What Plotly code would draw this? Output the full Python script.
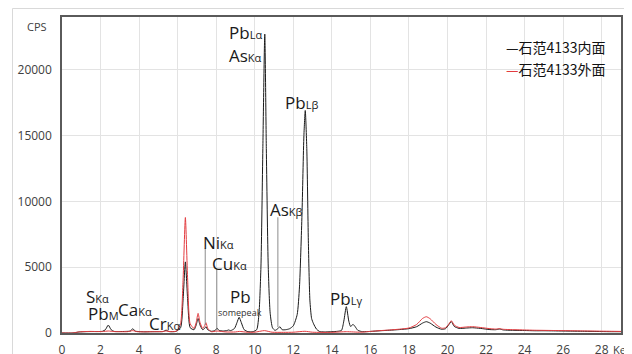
import plotly.graph_objects as go

# ---- data (energy in keV, intensity in CPS) ----
inner_keV = [0.0, 0.5, 0.7, 0.9, 1.2, 1.5, 1.8, 2.1, 2.25, 2.4, 2.55, 2.7, 3.0, 3.3, 3.55, 3.67, 3.8, 4.0,
             4.3, 4.6, 5.0, 5.25, 5.4, 5.55, 5.9, 6.15, 6.28, 6.4, 6.52, 6.65, 6.85, 6.96, 7.06, 7.16, 7.3,
             7.4, 7.47, 7.56, 7.75, 7.95, 8.04, 8.14, 8.35, 8.55, 8.64, 8.75, 8.95, 9.08, 9.19, 9.3, 9.45,
             9.65, 9.9, 10.1, 10.22, 10.32, 10.42, 10.52, 10.6, 10.7, 10.8, 10.92, 11.05, 11.2, 11.3, 11.42,
             11.6, 11.8, 12.0, 12.2, 12.32, 12.45, 12.55, 12.62, 12.7, 12.78, 12.86, 12.95, 13.05, 13.2,
             13.35, 13.6, 14.0, 14.3, 14.5, 14.62, 14.75, 14.88, 14.97, 15.1, 15.2, 15.35, 15.6, 16.0, 16.5,
             17.0, 17.5, 18.0, 18.4, 18.7, 18.9, 19.1, 19.4, 19.7, 19.9, 20.05, 20.2, 20.35, 20.6, 21.0,
             21.3, 21.7, 22.2, 22.5, 22.7, 22.9, 23.5, 24.0, 24.5, 25.0, 25.5, 26.0, 26.5, 27.0, 27.5, 28.0,
             28.5, 29.0]
inner_cps = [0, 0, 30, 80, 100, 110, 110, 130, 250, 600, 250, 120, 110, 120, 150, 330, 140, 110,
             90, 100, 100, 110, 220, 110, 120, 400, 2500, 5400, 2500, 400, 250, 600, 1100, 600, 250,
             350, 480, 250, 130, 200, 380, 200, 150, 180, 230, 180, 350, 800, 1190, 800, 250,
             100, 100, 250, 1500, 5000, 14000, 22700, 14000, 5000, 1500, 400, 200, 330, 480, 250,
             250, 320, 550, 1400, 3500, 9000, 15000, 16900, 14000, 7000, 2500, 1100, 700, 300,
             120, 80, 100, 130, 200, 900, 2000, 900, 500, 650, 500, 200, 100, 120, 170,
             210, 260, 330, 480, 750, 860, 750, 450, 280, 330, 600, 860, 500, 350, 380,
             400, 350, 260, 250, 300, 230, 200, 190, 170, 170, 160, 150, 140, 130, 120, 110,
             100, 100]

outer_keV = [0.0, 0.5, 0.7, 0.9, 1.2, 1.5, 1.8, 2.1, 2.4, 2.7, 3.0, 3.4, 3.67, 3.9, 4.3, 4.8, 5.2, 5.4,
             5.6, 5.95, 6.15, 6.28, 6.4, 6.52, 6.65, 6.85, 6.96, 7.06, 7.16, 7.3, 7.4, 7.47, 7.56, 7.75,
             8.04, 8.5, 9.0, 9.2, 9.6, 10.0, 10.5, 10.9, 11.5, 12.0, 12.6, 13.0, 14.0, 14.75, 15.5, 16.0,
             16.5, 17.0, 17.5, 18.0, 18.4, 18.7, 18.9, 19.1, 19.4, 19.7, 19.9, 20.05, 20.2, 20.35, 20.6,
             21.0, 21.3, 21.7, 22.2, 22.5, 22.7, 22.9, 23.5, 24.0, 24.5, 25.0, 25.5, 26.0, 26.5, 27.0,
             27.5, 28.0, 28.5, 29.0]
outer_cps = [0, 0, 40, 90, 110, 120, 110, 110, 150, 110, 100, 100, 180, 100, 90, 100, 110, 150,
             110, 150, 700, 4000, 8770, 4000, 700, 350, 800, 1490, 800, 350, 550, 780, 350, 100,
             150, 80, 80, 120, 60, 60, 180, 60, 50, 60, 130, 60, 50, 100, 60, 120,
             180, 230, 290, 380, 650, 1100, 1235, 1080, 650, 360, 400, 650, 930, 600, 420,
             460, 480, 420, 330, 300, 330, 280, 250, 230, 210, 200, 190, 180, 170, 160,
             150, 140, 130, 120]

series_names = ["石范4133内面", "石范4133外面"]
x_ticks = list(range(0, 30, 2))
y_ticks = [0, 5000, 10000, 15000, 20000]

# peak labels: (main, small, keV, cps)
labels = [
    ("Pb", "Lα", 9.5, 22800),
    ("As", "Kα", 9.5, 21100),
    ("Pb", "Lβ", 12.43, 17500),
    ("As", "Kβ", 11.65, 9400),
    ("Ni", "Kα", 8.1, 6900),
    ("Cu", "Kα", 8.67, 5250),
    ("Pb", "", 9.25, 2800),
    ("S", "Kα", 1.83, 2750),
    ("Pb", "M", 2.13, 1450),
    ("Ca", "Kα", 3.8, 1800),
    ("Cr", "Kα", 5.3, 750),
    ("Pb", "Lγ", 14.75, 2650),
]
leaders = [(7.43, 6440, 606), (8.03, 4920, 230), (11.2, 8790, 450)]

FONT = "Open Sans"
OFF = 8  # page body margin of the html

fig = go.Figure()
fig.add_trace(go.Scatter(x=inner_keV, y=inner_cps, mode="lines", name=series_names[0],
                         line=dict(color="#1a1a1a", width=1, shape="spline", smoothing=0.6)))
fig.add_trace(go.Scatter(x=outer_keV, y=outer_cps, mode="lines", name=series_names[1],
                         line=dict(color="#e33b3f", width=1, shape="spline", smoothing=0.6)))

ann = []
for main, small, xx, yy in labels:
    txt = main + (f"<span style='font-size:11px'>{small}</span>" if small else "")
    ann.append(dict(x=xx, y=yy, xref="x", yref="y", text=txt, showarrow=False,
                    font=dict(family=FONT, size=17, color="#1a1a1a"), xanchor="center", yanchor="middle"))
ann.append(dict(x=9.25, y=1550, xref="x", yref="y", text="somepeak", showarrow=False,
                font=dict(family=FONT, size=9, color="#333333"), xanchor="center", yanchor="middle"))
ann.append(dict(x=-0.023, y=23260, xref="paper", yref="y", text="CPS", showarrow=False,
                font=dict(family=FONT, size=11, color="#404040"), xanchor="right", yanchor="middle"))
ann.append(dict(x=(611 - 62) / 559, y=(333 - 349) / 316, xref="paper", yref="paper", text="KeV",
                showarrow=False, font=dict(family=FONT, size=11, color="#404040"),
                xanchor="left", yanchor="middle"))
# legend drawn as text
for i, (nm, col) in enumerate(zip(series_names, ["#1a1a1a", "#e33b3f"])):
    ann.append(dict(x=(504 - 62) / 559, y=(333 - (47 + 22 * i)) / 316, xref="paper", yref="paper",
                    text=f"<span style='color:{col}'>—</span>{nm}", showarrow=False,
                    font=dict(family="Noto Sans CJK SC", size=14, color="#111111"),
                    xanchor="left", yanchor="middle"))

shapes = []
for xx, y0, y1 in leaders:
    shapes.append(dict(type="line", xref="x", yref="y", x0=xx, x1=xx, y0=y0, y1=y1,
                       line=dict(color="#8c8c8c", width=1)))
shapes.append(dict(type="rect", xref="paper", yref="paper", x0=(12.5 - 62) / 559, x1=(640 - 62) / 559,
                   y0=(333 - 360) / 316, y1=(333 - 8.5) / 316, line=dict(color="#d9d9d9", width=1),
                   layer="below"))

fig.update_layout(
    width=632 - OFF, height=354 - OFF,
    margin=dict(l=62 - OFF, r=11, t=17 - OFF, b=21, autoexpand=False),
    paper_bgcolor="white", plot_bgcolor="white",
    showlegend=False,
    annotations=ann, shapes=shapes,
    font=dict(family=FONT, size=12, color="#404040"),
)
fig.update_xaxes(range=[0, 29], tickvals=x_ticks, showgrid=True, gridcolor="#e3e3e3", gridwidth=1,
                 showline=True, linecolor="#5a5a5a", linewidth=1.5, mirror=True, zeroline=False,
                 ticks="", ticklabelstandoff=5, tickfont=dict(family=FONT, size=12, color="#404040"),
                 automargin=False)
fig.update_yaxes(range=[0, 24000], tickvals=y_ticks, tickformat="d", showgrid=True, gridcolor="#e3e3e3",
                 gridwidth=1, showline=True, linecolor="#5a5a5a", linewidth=1.5, mirror=True, zeroline=False,
                 ticks="", ticklabelstandoff=6, tickfont=dict(family=FONT, size=12, color="#404040"),
                 automargin=False)

fig.write_html("out.html")
